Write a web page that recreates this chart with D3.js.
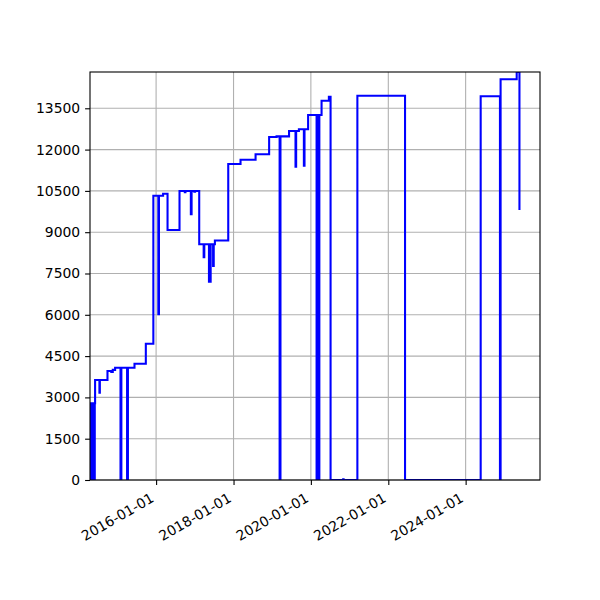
<!DOCTYPE html>
<html>
<head>
<meta charset="utf-8">
<script src="https://cdn.jsdelivr.net/npm/d3@7/dist/d3.min.js"></script>
<style>
  body { margin: 0; background: #fff; }
  text { font-family: "DejaVu Sans", sans-serif; }
</style>
</head>
<body>
<div id="chart-container"></div>
<script>
// step points (value holds from its date until the next one)
const dates = [
    '2014-04-17', '2014-04-21', '2014-04-24', '2014-04-28', '2014-05-01', '2014-05-05',
    '2014-05-09', '2014-05-13', '2014-05-17', '2014-05-21', '2014-05-25', '2014-05-29',
    '2014-06-01', '2014-06-04', '2014-07-15', '2014-07-19', '2014-09-29', '2014-11-04',
    '2014-11-18', '2014-12-10', '2015-01-30', '2015-02-07', '2015-04-02', '2015-04-10',
    '2015-06-11', '2015-09-26', '2015-12-06', '2016-01-22', '2016-01-28', '2016-03-07',
    '2016-04-18', '2016-08-09', '2016-09-28', '2016-10-04', '2016-11-24', '2016-12-01',
    '2016-12-27', '2017-01-03', '2017-02-11', '2017-03-25', '2017-03-31', '2017-05-14',
    '2017-05-30', '2017-06-22', '2017-06-28', '2017-07-09', '2017-11-12', '2018-03-08',
    '2018-07-28', '2018-12-03', '2019-02-11', '2019-03-12', '2019-03-20', '2019-06-09',
    '2019-08-09', '2019-08-15', '2019-09-10', '2019-10-27', '2019-11-02', '2019-12-06',
    '2020-02-24', '2020-02-28', '2020-03-17', '2020-03-21', '2020-04-11', '2020-06-19',
    '2020-07-05', '2020-11-01', '2020-11-05', '2021-03-15', '2022-06-08', '2024-05-22',
    '2024-11-20', '2024-11-26', '2025-04-27', '2025-05-23'
];
const values = [
    2786, 0, 2786, 0, 2786, 0,
    2786, 0, 2786, 0, 2786, 0,
    2786, 3632, 3171, 3632, 3959, 3920,
    4000, 4079, 0, 4079, 0, 4079,
    4224, 4950, 10326, 6018, 10326, 10398,
    9080, 10496, 10450, 10496, 9650, 10496,
    10470, 10496, 8561, 8088, 8561, 7202,
    8561, 7772, 8561, 8700, 11477, 11633,
    11829, 12458, 12480, 0, 12480, 12676,
    11379, 12676, 12737, 11415, 12737, 13257,
    0, 13257, 0, 13257, 13776, 13921,
    0, 30, 0, 13958, 0, 13940,
    0, 14553, 14818, 9806
];

const yTicks = [0, 1500, 3000, 4500, 6000, 7500, 9000, 10500, 12000, 13500];
const xTicks = ['2016-01-01', '2018-01-01', '2020-01-01', '2022-01-01', '2024-01-01'];
const xStart = '2014-04-17';
const xEnd = '2025-12-03';
const yMax = 14818;

const svgWidth = 600;
const svgHeight = 600;
const margin = {top: 72, right: 60, bottom: 120, left: 90};
const width = svgWidth - margin.left - margin.right;
const height = svgHeight - margin.top - margin.bottom;

const parse = d3.timeParse('%Y-%m-%d');
const fmt = d3.timeFormat('%Y-%m-%d');
const data = dates.map((d, i) => ({date: parse(d), value: values[i]}));

const svg = d3.select('#chart-container')
    .append('svg')
    .attr('width', svgWidth)
    .attr('height', svgHeight);

const g = svg.append('g')
    .attr('transform', `translate(${margin.left}, ${margin.top})`);

const xScale = d3.scaleTime()
    .domain([parse(xStart), parse(xEnd)])
    .range([0, width]);

const yScale = d3.scaleLinear()
    .domain([0, yMax])
    .range([height, 0]);

// grid
g.append('g')
    .selectAll('line')
    .data(xTicks.map(parse))
    .enter()
    .append('line')
    .attr('x1', d => xScale(d))
    .attr('x2', d => xScale(d))
    .attr('y1', 0)
    .attr('y2', height)
    .attr('stroke', '#b0b0b0')
    .attr('stroke-width', 1.1);

g.append('g')
    .selectAll('line')
    .data(yTicks)
    .enter()
    .append('line')
    .attr('x1', 0)
    .attr('x2', width)
    .attr('y1', d => yScale(d))
    .attr('y2', d => yScale(d))
    .attr('stroke', '#b0b0b0')
    .attr('stroke-width', 1.1);

g.append('clipPath')
    .attr('id', 'plot-clip')
    .append('rect')
    .attr('width', width)
    .attr('height', height);

const line = d3.line()
    .x(d => xScale(d.date))
    .y(d => yScale(d.value))
    .curve(d3.curveStepAfter);

g.append('path')
    .datum(data)
    .attr('clip-path', 'url(#plot-clip)')
    .attr('fill', 'none')
    .attr('stroke', '#0000ff')
    .attr('stroke-width', 2.08)
    .attr('stroke-linejoin', 'miter')
    .attr('d', line);

// axes
const yAxis = d3.axisLeft(yScale)
    .tickValues(yTicks)
    .tickSize(4.9)
    .tickPadding(4.9)
    .tickFormat(d3.format('d'));
const yG = g.append('g').call(yAxis);

const xAxis = d3.axisBottom(xScale)
    .tickValues(xTicks.map(parse))
    .tickSize(4.9)
    .tickFormat(fmt);
const xG = g.append('g')
    .attr('transform', `translate(0, ${height})`)
    .call(xAxis);

[xG, yG].forEach(ax => {
    ax.select('.domain').remove();
    ax.selectAll('.tick line').attr('stroke', '#000').attr('stroke-width', 1.1);
    ax.selectAll('.tick text')
        .attr('fill', '#000')
        .style('font-size', '13.9px')
        .style('font-family', '"DejaVu Sans", sans-serif');
});

yG.selectAll('.tick text').attr('dy', '0.32em');

xG.selectAll('.tick text')
    .attr('text-anchor', 'end')
    .attr('y', 0)
    .attr('dy', 0)
    .attr('transform', 'translate(-1.6, 20.9) rotate(-30)');

// frame
g.append('rect')
    .attr('width', width)
    .attr('height', height)
    .attr('fill', 'none')
    .attr('stroke', '#000')
    .attr('stroke-width', 1.1);
</script>
</body>
</html>
